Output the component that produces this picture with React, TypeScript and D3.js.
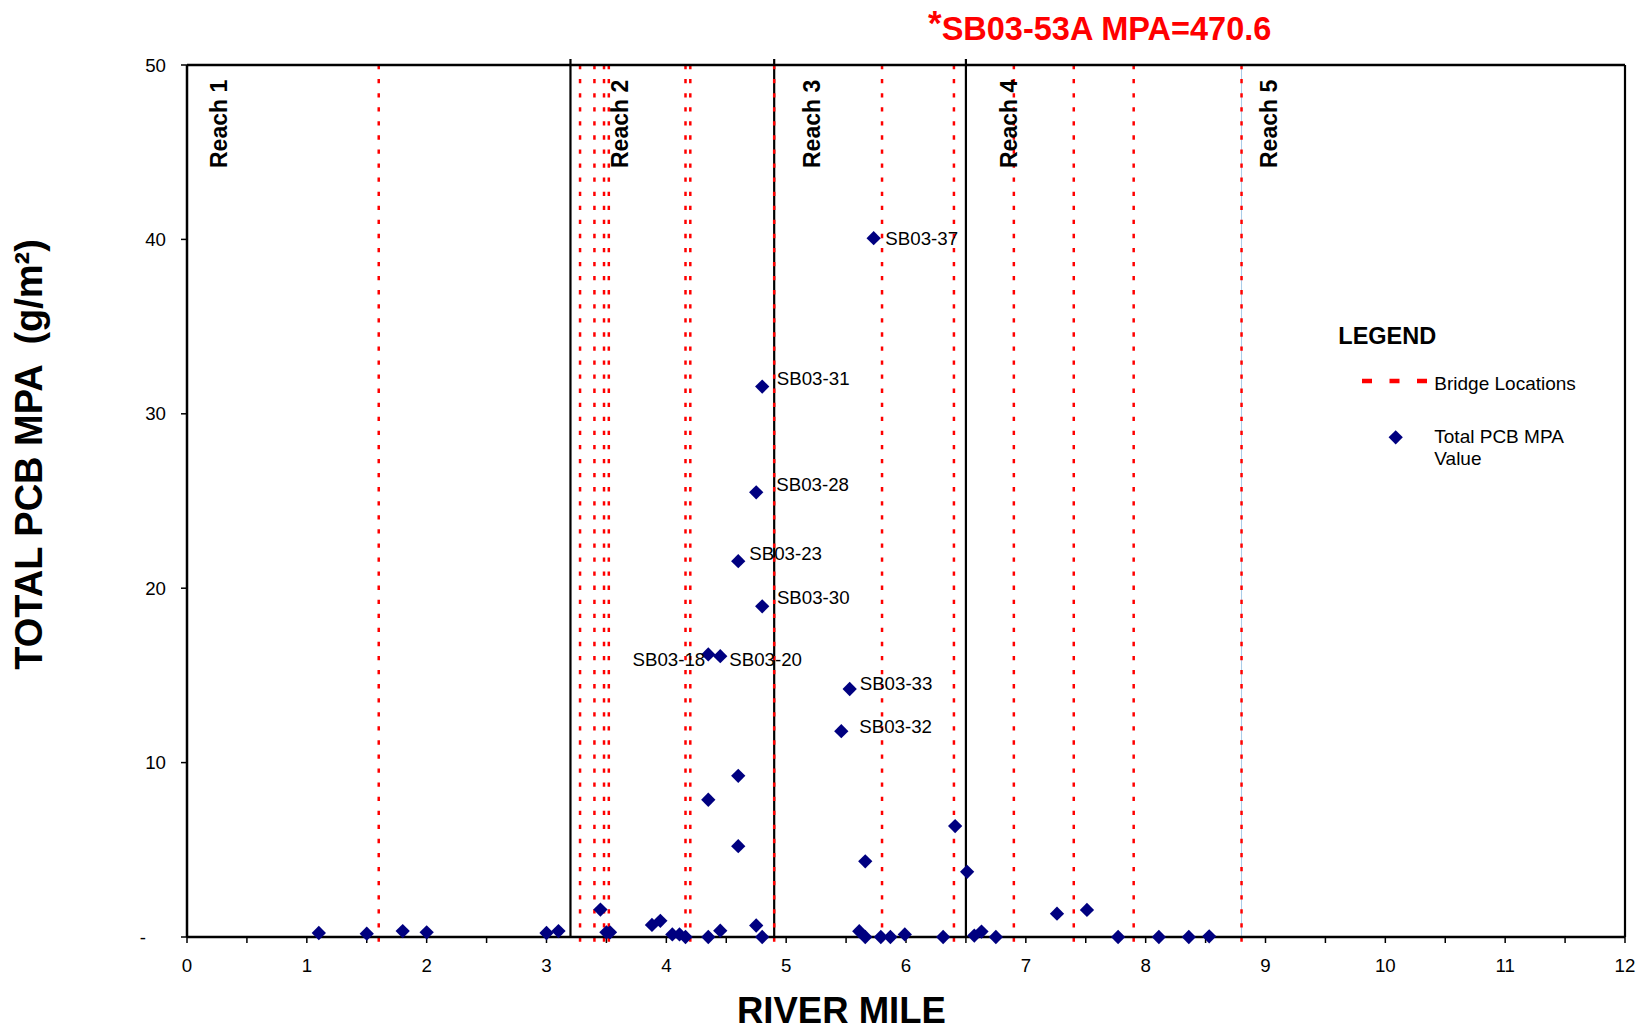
import React, { useEffect } from 'react';
import * as d3 from 'd3';

const W = 1642;
const H = 1031;
const FONT = '"Liberation Sans", Arial, Helvetica, sans-serif';

// ---- data ----
const pointMiles = [
  1.1, 1.5, 1.8, 2.0, 3.0, 3.1, 3.45, 3.5, 3.53, 3.88, 3.95, 4.05, 4.11, 4.16,
  4.35, 4.35, 4.35, 4.45, 4.45, 4.6, 4.6, 4.6, 4.75, 4.75, 4.8, 4.8, 4.8,
  5.46, 5.53, 5.61, 5.66, 5.66, 5.73, 5.79, 5.87, 5.99, 6.31, 6.41, 6.51, 6.57,
  6.63, 6.75, 7.26, 7.51, 7.77, 8.11, 8.36, 8.53,
];
const pointValues = [
  0.23, 0.19, 0.34, 0.27, 0.23, 0.34, 1.57, 0.27, 0.27, 0.69, 0.93, 0.15, 0.15, 0.0,
  7.87, 16.2, 0.0, 16.1, 0.36, 21.55, 9.24, 5.21, 25.5, 0.66, 31.56, 18.96, 0.0,
  11.8, 14.22, 0.33, 4.34, 0.0, 40.07, 0.0, 0.0, 0.15, 0.0, 6.36, 3.74, 0.08,
  0.31, 0.0, 1.34, 1.55, 0.0, 0.0, 0.0, 0.04,
];
const pointLabels = [
  '', '', '', '', '', '', '', '', '', '', '', '', '', '',
  '', 'SB03-18', '', 'SB03-20', '', 'SB03-23', '', '', 'SB03-28', '', 'SB03-31', 'SB03-30', '',
  'SB03-32', 'SB03-33', '', '', '', 'SB03-37', '', '', '', '', '', '', '',
  '', '', '', '', '', '', '', '',
];

const reachBoundaries = [3.2, 4.9, 6.5];
const bridgeMiles = [1.6, 3.28, 3.4, 3.48, 3.52, 4.16, 4.2, 4.9, 5.8, 6.4, 6.9, 7.4, 7.9, 8.8];
const reachNames = ['Reach 1', 'Reach 2', 'Reach 3', 'Reach 4', 'Reach 5'];
const reachLabelMiles = [0.33, 3.68, 5.28, 6.93, 9.1];

const xTickValues = d3.range(0, 13, 1);
const xMinorTicks = d3.range(0, 12.001, 0.5);
const yTickValues = [0, 10, 20, 30, 40, 50];
const yTickLabels = ['-', '10', '20', '30', '40', '50'];

const titleNote = 'SB03-53A MPA=470.6';

// label nudges (pixels, relative to marker): [dx, dy of text centre, anchor]
const labelNudge: Record<string, [number, number, string]> = {
  'SB03-37': [11.7, 0, 'start'],
  'SB03-31': [14.6, -8, 'start'],
  'SB03-28': [20, -8, 'start'],
  'SB03-23': [11, -8, 'start'],
  'SB03-30': [14.7, -9, 'start'],
  'SB03-18': [-3, 5, 'end'],
  'SB03-20': [9, 3, 'start'],
  'SB03-33': [10, -6, 'start'],
  'SB03-32': [18, -5, 'start'],
};

export default function App() {
  useEffect(() => {
    document.body.style.margin = '0';
    document.body.style.overflow = 'hidden';
  }, []);

  const x = d3.scaleLinear().domain([0, 12]).range([187, 1625]);
  const y = d3.scaleLinear().domain([0, 50]).range([937, 65]);
  const [x0, x1] = x.range();
  const [yb, yt] = y.range();

  const diamond = d3.symbol().type(d3.symbolSquare).size(102)();
  const lblSize = 18.7;

  return (
    <svg width={W} height={H} style={{ display: 'block', position: 'absolute', left: 0, top: 0, background: '#fff' }} fontFamily={FONT}>
      <rect x={0} y={0} width={W} height={H} fill="#fff" />

      {/* title note */}
      <text x={928} y={39.5} fill="#ff0000" fontWeight="bold" fontSize={32.5}>
        <tspan fontSize={35} dy={-5}>*</tspan>
        <tspan dy={5}>{titleNote}</tspan>
      </text>

      {/* light blue line at last bridge */}
      <line x1={x(8.8)} x2={x(8.8)} y1={yt} y2={yb} stroke="#a9cbe8" strokeWidth={1} />

      {/* reach boundaries */}
      {reachBoundaries.map((m, i) => (
        <line key={'rb' + i} x1={x(m)} x2={x(m)} y1={59} y2={yb} stroke="#000" strokeWidth={2.2} />
      ))}

      {/* bridge lines */}
      {bridgeMiles.map((m, i) => (
        <line key={'br' + i} x1={x(m)} x2={x(m)} y1={yt} y2={943.5} stroke="#ff0000" strokeWidth={2.5} strokeDasharray="4.3 9.77" />
      ))}

      {/* frame */}
      <line x1={x0} x2={x1} y1={yt} y2={yt} stroke="#000" strokeWidth={2.5} />
      <line x1={x1} x2={x1} y1={yt} y2={yb} stroke="#000" strokeWidth={2.2} />
      <line x1={x0} x2={x0} y1={yt} y2={yb} stroke="#000" strokeWidth={2.5} />
      <line x1={x0} x2={x1} y1={yb} y2={yb} stroke="#000" strokeWidth={2.5} />

      {/* y ticks */}
      {yTickValues.map((v, i) => (
        <g key={'yt' + i}>
          <line x1={x0 - 6} x2={x0} y1={y(v)} y2={y(v)} stroke="#000" strokeWidth={1.5} />
          <text x={i === 0 ? 146 : 166} y={y(v) + 6.5} textAnchor="end" fontSize={lblSize} fill="#000">{yTickLabels[i]}</text>
        </g>
      ))}

      {/* x ticks */}
      {xMinorTicks.map((v, i) => (
        <line key={'xm' + i} x1={x(v)} x2={x(v)} y1={yb} y2={yb + 6} stroke="#000" strokeWidth={1.5} />
      ))}
      {xTickValues.map((v, i) => (
        <text key={'xt' + i} x={x(v)} y={971.5} textAnchor="middle" fontSize={lblSize} fill="#000">{String(v)}</text>
      ))}

      {/* reach labels */}
      {reachNames.map((n, i) => (
        <text key={'rn' + i} transform={`translate(${x(reachLabelMiles[i])},168) rotate(-90)`} fontSize={23} fontWeight="bold" fill="#000">{n}</text>
      ))}

      {/* points */}
      {pointMiles.map((m, i) => (
        <path key={'p' + i} d={diamond} transform={`translate(${x(m)},${y(pointValues[i])}) rotate(45)`} fill="#000080" />
      ))}

      {/* point labels */}
      {pointLabels.map((l, i) => {
        if (!l) return null;
        const nudge = labelNudge[l] || [10, 0, 'start'];
        return (
          <text key={'pl' + i} x={x(pointMiles[i]) + nudge[0]} y={y(pointValues[i]) + nudge[1] + 6.7} textAnchor={nudge[2]} fontSize={lblSize} fill="#000">{l}</text>
        );
      })}

      {/* axis titles */}
      <text transform="translate(41.7,454.4) rotate(-90)" textAnchor="middle" fontSize={38} fontWeight="bold" fill="#000" style={{ whiteSpace: 'pre' }}>{'TOTAL PCB MPA  (g/m²)'}</text>
      <text x={841.4} y={1023} textAnchor="middle" fontSize={36.5} fontWeight="bold" fill="#000">RIVER MILE</text>

      {/* legend */}
      <text x={1338.3} y={344} fontSize={23.5} fontWeight="bold" fill="#000">LEGEND</text>
      <line x1={1362} x2={1427} y1={381} y2={381} stroke="#ff0000" strokeWidth={4.5} strokeDasharray="10 17.5" />
      <text x={1434.3} y={390} fontSize={19} fill="#000">Bridge Locations</text>
      <path d={diamond} transform="translate(1395.7,437.3) rotate(45)" fill="#000080" />
      <text x={1434.3} y={443.3} fontSize={19} fill="#000">Total PCB MPA</text>
      <text x={1434.3} y={465} fontSize={19} fill="#000">Value</text>
    </svg>
  );
}
